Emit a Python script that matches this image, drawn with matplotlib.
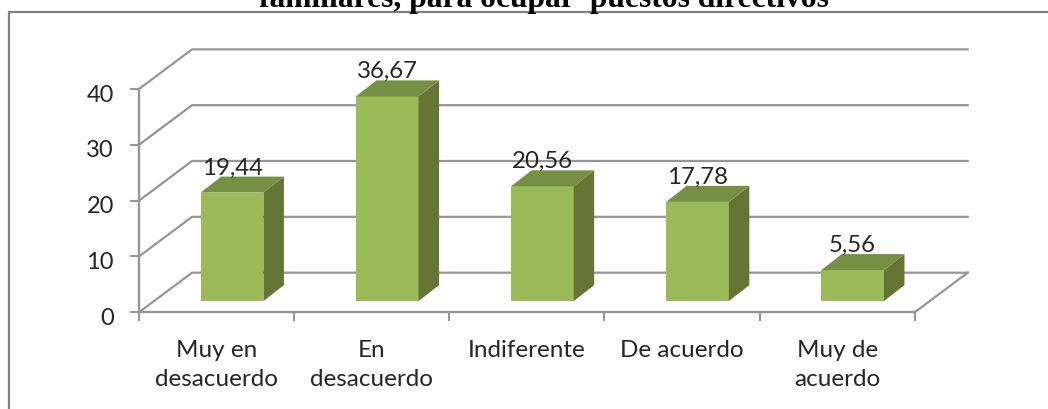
import matplotlib
matplotlib.use("Agg")
import matplotlib.pyplot as plt
from matplotlib.lines import Line2D
from matplotlib.patches import Polygon
from matplotlib.transforms import ScaledTranslation

# data
categories = ["Muy en\ndesacuerdo", "En\ndesacuerdo", "Indiferente", "De acuerdo", "Muy de\nacuerdo"]
values = [19.44, 36.67, 20.56, 17.78, 5.56]
value_labels = ["19,44", "36,67", "20,56", "17,78", "5,56"]
y_ticks = [0, 10, 20, 30, 40]
title = "familiares, para ocupar  puestos directivos"

W, H = 1048, 410
GREY = "#969696"
TEXT = "#262626"

fig = plt.figure(figsize=(W / 100, H / 100), dpi=100, facecolor="white")

# plot area in pixels: front floor edge 139..915, y=0 at 313, y=40 at 90
ax = fig.add_axes([139 / W, 1 - 313.3 / H, 775.7 / W, 223.3 / H])
ax.set_xlim(0, 5)
ax.set_ylim(0, 40)
ax.patch.set_visible(False)
for s in ["top", "right"]:
    ax.spines[s].set_visible(False)
for s in ["left", "bottom"]:
    ax.spines[s].set_color(GREY)
    ax.spines[s].set_linewidth(1.7)

# fake 3d offsets (in axis units)
floor_dx = 53 / 155.1
floor_dy = 7.1
bar_w = 0.404
bar_shift = 15.5 / 155.1
bar_lift = 2.0
bar_dx = 20.5 / 155.1
bar_dy = 2.87

# walls: back gridlines and the diagonals coming to the axis
for t in y_ticks:
    ax.plot([0, floor_dx, 5 + floor_dx], [t, t + floor_dy, t + floor_dy],
            color=GREY, lw=1.6, clip_on=False, zorder=1)
ax.plot([5, 5 + floor_dx], [0, floor_dy], color=GREY, lw=1.6, clip_on=False, zorder=1)

for i, v in enumerate(values):
    x0 = i + 0.5 + bar_shift - bar_w / 2
    x1 = x0 + bar_w
    y0 = bar_lift
    y1 = bar_lift + v
    ax.add_patch(Polygon([(x0, y0), (x1, y0), (x1, y1), (x0, y1)],
                         facecolor="#9bbb59", edgecolor="none", clip_on=False, zorder=3))
    ax.add_patch(Polygon([(x1, y0), (x1 + bar_dx, y0 + bar_dy), (x1 + bar_dx, y1 + bar_dy), (x1, y1)],
                         facecolor="#647535", edgecolor="none", clip_on=False, zorder=3))
    ax.add_patch(Polygon([(x0, y1), (x1, y1), (x1 + bar_dx, y1 + bar_dy), (x0 + bar_dx, y1 + bar_dy)],
                         facecolor="#778f44", edgecolor="none", clip_on=False, zorder=3))
    ax.annotate(value_labels[i], ((x0 + x1) / 2, y1), xytext=(0, 18.5), textcoords="offset points",
                ha="center", va="center", fontsize=17.3, family="Lato", color=TEXT, zorder=4,
                annotation_clip=False)

ax.set_yticks(y_ticks)
ax.set_yticklabels([str(t) for t in y_ticks], fontsize=17, family="Lato", color=TEXT)
ax.tick_params(axis="y", length=6.5, width=1.5, color=GREY, pad=11.5)
for lab in ax.get_yticklabels():
    lab.set_transform(lab.get_transform() + ScaledTranslation(0, -3 / 100, fig.dpi_scale_trans))

ax.set_xticks(range(6))
ax.set_xticklabels([""] * 6)
ax.tick_params(axis="x", which="major", length=6.5, width=1.5, color=GREY)
ax.set_xticks([i + 0.5 for i in range(5)], minor=True)
ax.set_xticklabels(categories, minor=True, fontsize=17.5, family="Lato", color=TEXT,
                   linespacing=1.47, va="top")
ax.tick_params(axis="x", which="minor", length=0, pad=19)

# outer frame, runs off the right and bottom of the picture
fig.add_artist(Line2D([8.5 / W, 8.5 / W, 1], [0, 1 - 13 / H, 1 - 13 / H], color="#808080", lw=1.6))

fig.text(543.5 / W, 1 - 7.5 / H, title, ha="center", va="baseline", fontsize=22.7,
         family="Liberation Serif", fontweight="bold", color="black")

fig.savefig("out.png", dpi=100, facecolor="white")
